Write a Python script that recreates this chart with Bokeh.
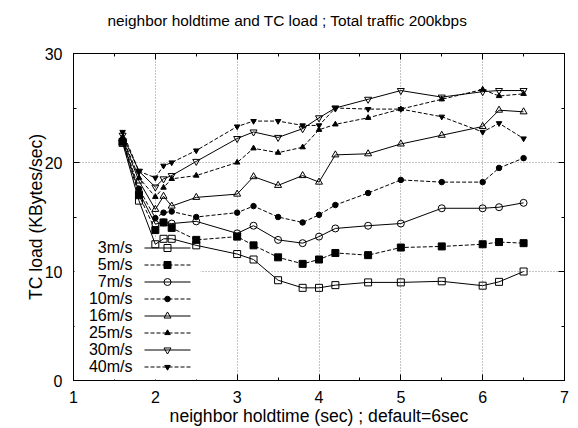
from bokeh.plotting import figure
from bokeh.models import (Range1d, LinearAxis, SingleIntervalTicker, Label,
                          BoxAnnotation, Title, CustomLabelingPolicy)
from bokeh.embed import file_html
from bokeh.resources import INLINE

# ---------------- data ----------------
holdtime = [1.6, 1.8, 2.0, 2.1, 2.2, 2.5, 3.0, 3.2, 3.5, 3.8, 4.0, 4.2, 4.6, 5.0, 5.5, 6.0, 6.2, 6.5]

load_3 = [21.8, 16.5, 12.5, 13.0, 13.0, 12.4, 11.6, 11.1, 9.2, 8.5, 8.5, 8.75, 9.0, 9.0, 9.1, 8.7, 9.05, 10.0]
load_5 = [21.9, 17.0, 13.8, 14.5, 14.0, 12.9, 13.2, 12.4, 11.3, 10.7, 11.1, 11.7, 11.5, 12.2, 12.3, 12.5, 12.7, 12.6]
load_7 = [22.0, 17.3, 14.35, 14.5, 14.4, 14.6, 13.5, 14.2, 12.9, 12.6, 13.2, 13.95, 14.2, 14.4, 15.8, 15.8, 15.9, 16.3]
load_10 = [22.1, 17.6, 14.9, 15.4, 15.5, 15.0, 15.4, 16.0, 15.0, 14.5, 15.2, 16.1, 17.2, 18.4, 18.2, 18.2, 19.5, 20.4]
load_16 = [22.2, 18.3, 15.7, 16.9, 16.0, 16.8, 17.1, 18.7, 17.9, 18.8, 18.2, 20.7, 20.8, 21.7, 22.5, 23.3, 24.8, 24.65]
load_25 = [22.3, 18.6, 16.85, 17.7, 18.5, 18.8, 20.0, 21.3, 20.9, 21.4, 23.0, 23.5, 24.1, 24.9, 25.8, 26.7, 26.1, 26.3]
load_30 = [22.5, 19.2, 17.75, 18.5, 18.8, 20.1, 22.2, 22.8, 22.3, 23.1, 24.1, 25.0, 25.8, 26.6, 26.0, 26.5, 26.6, 26.6]
load_40 = [22.8, 19.2, 18.6, 19.7, 20.0, 21.1, 23.3, 23.8, 23.8, 23.4, 23.4, 25.0, 24.9, 24.9, 24.2, 22.8, 23.6, 22.2]

series_names = ["3m/s", "5m/s", "7m/s", "10m/s", "16m/s", "25m/s", "30m/s", "40m/s"]
series_values = [load_3, load_5, load_7, load_10, load_16, load_25, load_30, load_40]

title_text = "neighbor holdtime and TC load ; Total traffic 200kbps"
x_label = "neighbor holdtime (sec) ; default=6sec"
y_label = "TC load (KBytes/sec)"

# ---------------- styles ----------------
FONT = "Liberation Sans"
markers = ["square", "square", "circle", "circle", "triangle", "triangle",
           "inverted_triangle", "inverted_triangle"]
fills = [None, "black", None, "black", None, "black", None, "black"]
sizes = [7, 7, 7, 5.5, 7, 5.5, 7, 5.5]
dashes = ["solid", "4 2", "solid", "4 2", "solid", "4 2", "solid", "4 2"]

FRAME_W, FRAME_H = 491, 327
p = figure(width=578, height=428, x_range=Range1d(1, 7), y_range=Range1d(0, 30),
           output_backend="svg", toolbar_location=None,
           min_border_left=73, min_border_right=14, min_border_top=53,
           min_border_bottom=48)
# pixel coordinate system of the plot frame, used only for the key samples
p.extra_x_ranges = {"px": Range1d(0, FRAME_W)}
p.extra_y_ranges = {"px": Range1d(0, FRAME_H)}

p.title = Title(text=title_text, align="left", offset=34, standoff=0,
                text_font=FONT, text_font_size="15.4px",
                text_font_style="normal", text_color="black")

p.outline_line_color = "black"
p.outline_line_width = 1
p.background_fill_color = "white"
p.border_fill_color = "white"

xt = SingleIntervalTicker(interval=1, num_minor_ticks=2)
yt = SingleIntervalTicker(interval=10, num_minor_ticks=2)


def style_axis(ax, labels=True):
    ax.axis_line_color = None
    ax.major_tick_in = 6
    ax.major_tick_out = 0
    ax.minor_tick_in = 3
    ax.minor_tick_out = 0
    ax.major_tick_line_color = "black"
    ax.minor_tick_line_color = "black"
    if labels:
        ax.major_label_text_font = FONT
        ax.major_label_text_font_size = "16px"
        ax.major_label_text_color = "black"
        ax.axis_label_text_font = FONT
        ax.axis_label_text_font_size = "17.6px"
        ax.axis_label_text_font_style = "normal"
        ax.axis_label_text_color = "black"
    else:
        # mirrored ticks only: hide every tick label
        ax.major_label_text_font_size = "1px"
        ax.major_label_policy = CustomLabelingPolicy(
            code="for (const i of indices) indices.unset(i); return indices")


p.xaxis.ticker = xt
p.yaxis.ticker = yt
style_axis(p.xaxis[0])
style_axis(p.yaxis[0])
p.xaxis.axis_label = x_label
p.yaxis.axis_label = y_label
p.xaxis.major_label_standoff = 10
p.xaxis.axis_label_standoff = 0
p.yaxis.major_label_standoff = 11
p.yaxis.axis_label_standoff = -4

top_ax = LinearAxis(ticker=SingleIntervalTicker(interval=1, num_minor_ticks=2))
right_ax = LinearAxis(ticker=SingleIntervalTicker(interval=10, num_minor_ticks=2))
style_axis(top_ax, labels=False)
style_axis(right_ax, labels=False)
top_ax.major_label_standoff = 21
right_ax.major_label_standoff = 0
p.add_layout(top_ax, "above")
p.add_layout(right_ax, "right")

p.xgrid.ticker = xt
p.ygrid.ticker = yt
p.grid.grid_line_color = "#8a8a8a"
p.grid.grid_line_dash = "1 2"
p.grid.grid_line_width = 1

# ---------------- data series ----------------
for i, ys in enumerate(series_values):
    p.line(holdtime, ys, line_color="black", line_width=1,
           line_dash=dashes[i], level="overlay")
    p.scatter(holdtime, ys, marker=markers[i], size=sizes[i],
              line_color="black", line_width=1,
              fill_color=fills[i], level="overlay")

# ---------------- key (label, then sample) ----------------
KEY_X, KEY_Y, ROW, SAMPLE_W, GAP = 71, 5, 17, 46, 12
p.add_layout(BoxAnnotation(left=1, right=KEY_X + SAMPLE_W + 10, bottom=1,
                           top=KEY_Y + ROW * len(series_names) + 1,
                           left_units="screen", right_units="screen",
                           top_units="screen", bottom_units="screen",
                           fill_color="white", fill_alpha=1.0, line_alpha=0))

n = len(series_names)
for i, name in enumerate(series_names):
    row_y = KEY_Y + ROW * (n - 1 - i) + ROW / 2
    p.line([KEY_X, KEY_X + SAMPLE_W], [row_y, row_y], line_color="black",
           line_width=1, line_dash=dashes[i], x_range_name="px",
           y_range_name="px", level="overlay")
    p.scatter([KEY_X + SAMPLE_W / 2], [row_y], marker=markers[i], size=sizes[i],
              line_color="black", line_width=1, fill_color=fills[i],
              x_range_name="px", y_range_name="px", level="overlay")
    p.add_layout(Label(x=KEY_X - GAP, y=row_y + 1, x_units="screen",
                       y_units="screen", text=name, text_align="right",
                       text_baseline="middle", text_font=FONT,
                       text_font_size="16px", text_color="black"))

open("out.html", "w").write(file_html(p, INLINE))
